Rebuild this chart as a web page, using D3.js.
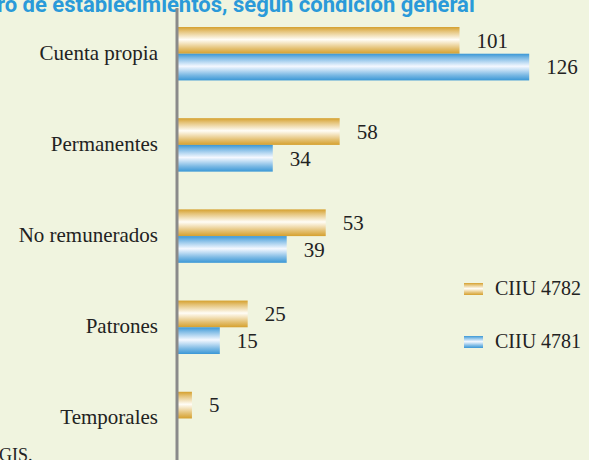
<!DOCTYPE html>
<html>
<head>
<meta charset="utf-8">
<script src="https://cdn.jsdelivr.net/npm/d3@7"></script>
<style>
  html, body { margin: 0; padding: 0; background: #F0F4DF; overflow: hidden; }
  svg { display: block; }
</style>
</head>
<body>
<svg id="chart" width="589" height="460"></svg>
<script>
// Establecimientos por condición general, CIIU 4782 vs CIIU 4781
const categories = ["Cuenta propia", "Permanentes", "No remunerados", "Patrones", "Temporales"];
const seriesNames = ["CIIU 4782", "CIIU 4781"];
const ciiu4782 = [101, 58, 53, 25, 5];
const ciiu4781 = [126, 34, 39, 15, null];
const titleText = "ro de establecimientos, según condición general";
const sourceText = "GIS.";

const seriesValues = [ciiu4782, ciiu4781];
const colors = {
  "CIIU 4782": { edge: "#D5A02E", mid: "#FFFDF6" },
  "CIIU 4781": { edge: "#3A97D6", mid: "#F4F8FF" }
};

const svg = d3.select("#chart");
const W = 589, H = 460;

svg.append("rect").attr("width", W).attr("height", H).attr("fill", "#F0F4DF");

// vertical gradients for the cylinder-like bars
const defs = svg.append("defs");
seriesNames.forEach((name, i) => {
  const c = colors[name];
  const g = defs.append("linearGradient")
    .attr("id", "grad" + i)
    .attr("x1", 0).attr("y1", 0).attr("x2", 0).attr("y2", 1);
  const mixTo = d3.interpolateRgb(c.edge, c.mid);
  [[0, 0], [0.15, 0.35], [0.32, 0.7], [0.47, 1], [0.6, 0.75], [0.8, 0.35], [1, 0]].forEach(([o, t]) => {
    g.append("stop").attr("offset", o).attr("stop-color", mixTo(t));
  });
});

const x = d3.scaleLinear().domain([0, 126]).range([178, 529.2]);
const y = d3.scaleBand().domain(categories).range([27, 445.2]).paddingInner(0.414).paddingOuter(0);
const ySub = d3.scaleBand().domain(seriesNames).range([0, y.bandwidth()]);

// title (partly outside the top edge)
svg.append("text")
  .attr("x", -3).attr("y", 12)
  .attr("font-family", "Roboto, 'Open Sans', sans-serif")
  .attr("font-weight", "bold")
  .attr("font-size", 22)
  .attr("fill", "#2A9AD9")
  .text(titleText);

const rows = categories.map((cat, ci) => ({
  cat,
  vals: seriesNames.map((s, si) => ({ s, si, v: seriesValues[si][ci] }))
}));

const groups = svg.append("g").selectAll("g.row")
  .data(rows).join("g")
  .attr("class", "row")
  .attr("transform", d => `translate(0,${y(d.cat)})`);

groups.selectAll("rect")
  .data(d => d.vals.filter(e => e.v != null && e.v > 0))
  .join("rect")
  .attr("x", x(0))
  .attr("y", e => ySub(e.s))
  .attr("width", e => x(e.v) - x(0))
  .attr("height", ySub.bandwidth())
  .attr("fill", e => `url(#grad${e.si})`);

groups.selectAll("text.val")
  .data(d => d.vals.filter(e => e.v != null && e.v > 0))
  .join("text")
  .attr("class", "val")
  .attr("x", e => x(e.v) + 17)
  .attr("y", e => ySub(e.s) + ySub.bandwidth() / 2 + 7.3)
  .attr("font-family", "'Liberation Serif', 'Times New Roman', serif")
  .attr("font-size", 21)
  .attr("fill", "#222")
  .text(e => e.v);

groups.append("text")
  .attr("x", 158)
  .attr("y", y.bandwidth() / 2 + 5.8)
  .attr("text-anchor", "end")
  .attr("font-family", "'Liberation Serif', 'Times New Roman', serif")
  .attr("font-size", 21)
  .attr("fill", "#222")
  .text(d => d.cat);

// vertical axis line
svg.append("line")
  .attr("x1", 177).attr("x2", 177)
  .attr("y1", 8).attr("y2", H)
  .attr("stroke", "#8A8A8A").attr("stroke-width", 3);

// legend
const legend = svg.append("g");
const legendY = [283, 336];
seriesNames.forEach((name, i) => {
  legend.append("rect")
    .attr("x", 464).attr("y", legendY[i])
    .attr("width", 19).attr("height", 12)
    .attr("fill", `url(#grad${i})`);
  legend.append("text")
    .attr("x", 495).attr("y", legendY[i] + 12)
    .attr("font-family", "'Liberation Serif', 'Times New Roman', serif")
    .attr("font-size", 20)
    .attr("fill", "#222")
    .text(name);
});

// source note (cut at the bottom-left edge)
svg.append("text")
  .attr("x", -1).attr("y", 461)
  .attr("font-family", "'Liberation Serif', 'Times New Roman', serif")
  .attr("font-size", 18)
  .attr("fill", "#222")
  .text(sourceText);
</script>
</body>
</html>
